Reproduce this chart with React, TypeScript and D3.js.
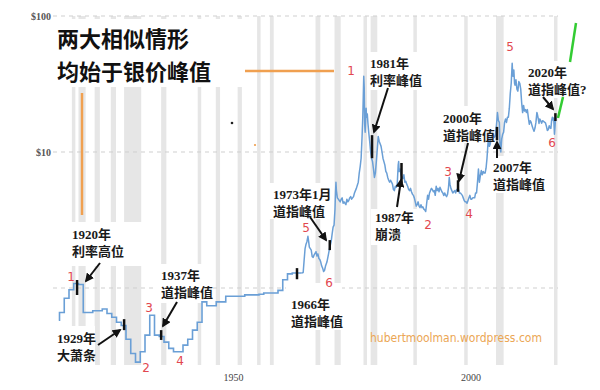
import React from "react";
import * as d3 from "d3";

// ---------- DATA ----------
// Annual silver price (USD/oz), drawn as steps
const stepYears = [1915.85, 1916, 1917, 1918, 1919, 1920, 1921, 1922, 1923, 1924, 1925, 1926, 1927, 1928, 1929, 1930, 1931, 1932, 1933, 1934, 1935, 1936, 1937, 1938, 1939, 1940, 1941, 1942, 1943, 1944, 1945, 1946, 1947, 1948, 1949, 1950, 1951, 1952, 1953, 1954, 1955, 1956, 1957, 1958, 1959, 1960, 1961, 1962, 1963, 1964, 1965, 1966];
const stepPrices = [0.58, 0.66, 0.84, 0.97, 1.08, 1.06, 0.66, 0.66, 0.68, 0.68, 0.7, 0.65, 0.61, 0.56, 0.53, 0.42, 0.33, 0.285, 0.34, 0.45, 0.63, 0.45, 0.44, 0.4, 0.36, 0.34, 0.34, 0.38, 0.42, 0.49, 0.56, 0.79, 0.74, 0.74, 0.79, 0.79, 0.87, 0.87, 0.87, 0.87, 0.89, 0.89, 0.89, 0.9, 0.92, 0.92, 0.92, 0.96, 1.15, 1.27, 1.29, 1.29];

// Silver price after 1967 (year, USD/oz)
const silverSeries: [number, number][] = [
  [1967.0, 1.29], [1967.3, 1.3], [1967.5, 1.6], [1967.7, 1.95], [1967.9, 2.1], [1968.1, 2.2], [1968.3, 2.4], [1968.45, 2.2], [1968.6, 2.0], [1968.8, 1.95],
  [1969.0, 1.9], [1969.2, 1.7], [1969.4, 1.68], [1969.6, 1.75], [1969.8, 1.8], [1970.0, 1.85], [1970.2, 1.72], [1970.4, 1.78], [1970.6, 1.65], [1970.8, 1.62],
  [1971.0, 1.55], [1971.2, 1.45], [1971.4, 1.4], [1971.6, 1.32], [1971.8, 1.35], [1972.0, 1.45], [1972.3, 1.55], [1972.6, 1.75], [1972.9, 2.0], [1973.0, 2.05],
  [1973.2, 2.2], [1973.4, 2.5], [1973.6, 2.8], [1973.8, 2.9], [1974.0, 3.8], [1974.1, 5.0], [1974.2, 6.0], [1974.3, 5.2], [1974.5, 4.6], [1974.7, 4.5],
  [1974.9, 4.4], [1975.1, 4.3], [1975.3, 4.5], [1975.5, 4.6], [1975.7, 4.2], [1975.9, 4.3], [1976.1, 4.2], [1976.3, 4.1], [1976.5, 4.5], [1976.7, 4.3],
  [1976.9, 4.4], [1977.1, 4.6], [1977.3, 4.7], [1977.5, 4.5], [1977.7, 4.6], [1977.9, 4.7], [1978.1, 5.0], [1978.3, 5.2], [1978.5, 5.4], [1978.7, 5.7],
  [1978.9, 6.0], [1979.1, 7.0], [1979.3, 7.8], [1979.5, 9.0], [1979.7, 13.0], [1979.85, 18.0], [1979.95, 25], [1980.05, 36], [1980.15, 30], [1980.25, 16],
  [1980.35, 14], [1980.45, 17], [1980.55, 21], [1980.65, 18], [1980.8, 19], [1980.95, 16], [1981.1, 14], [1981.3, 12], [1981.5, 10], [1981.7, 9],
  [1981.9, 8.5], [1982.1, 7.5], [1982.3, 6.5], [1982.5, 7.0], [1982.7, 8.5], [1982.9, 10.5], [1983.1, 13.0], [1983.3, 12.0], [1983.5, 11.5], [1983.7, 11.0],
  [1983.9, 10.0], [1984.1, 9.0], [1984.3, 8.5], [1984.5, 8.0], [1984.7, 7.2], [1984.9, 7.0], [1985.1, 6.5], [1985.3, 6.2], [1985.5, 6.0], [1985.7, 6.2],
  [1985.9, 6.0], [1986.1, 5.8], [1986.3, 5.3], [1986.5, 5.2], [1986.7, 5.6], [1986.9, 5.5], [1987.1, 5.8], [1987.3, 8.0], [1987.4, 8.5], [1987.5, 7.2],
  [1987.7, 7.5], [1987.9, 6.8], [1988.1, 6.5], [1988.3, 6.4], [1988.5, 6.8], [1988.7, 6.0], [1988.9, 6.1], [1989.1, 5.8], [1989.3, 5.6], [1989.5, 5.3],
  [1989.7, 5.2], [1989.9, 5.4], [1990.1, 5.1], [1990.3, 4.9], [1990.5, 4.8], [1990.7, 4.6], [1990.9, 4.3], [1991.1, 4.0], [1991.3, 4.1], [1991.5, 4.3],
  [1991.7, 4.0], [1991.9, 3.9], [1992.1, 4.1], [1992.3, 3.9], [1992.5, 3.95], [1992.7, 3.8], [1992.9, 3.75], [1993.1, 3.65], [1993.3, 4.2], [1993.5, 4.8],
  [1993.7, 4.5], [1993.9, 5.0], [1994.1, 5.2], [1994.3, 5.4], [1994.5, 5.3], [1994.7, 5.1], [1994.9, 5.2], [1995.1, 4.8], [1995.3, 5.6], [1995.5, 5.2],
  [1995.7, 5.4], [1995.9, 5.1], [1996.1, 5.5], [1996.3, 5.3], [1996.5, 5.1], [1996.7, 5.0], [1996.9, 4.8], [1997.1, 5.0], [1997.3, 4.8], [1997.5, 4.7],
  [1997.7, 4.9], [1997.9, 5.5], [1998.05, 6.5], [1998.2, 5.8], [1998.4, 5.4], [1998.6, 5.2], [1998.8, 5.0], [1999.0, 5.1], [1999.2, 5.2], [1999.4, 5.0],
  [1999.6, 5.3], [1999.8, 5.2], [2000.0, 5.3], [2000.2, 5.0], [2000.4, 5.0], [2000.6, 4.9], [2000.8, 4.8], [2001.0, 4.6], [2001.2, 4.4], [2001.4, 4.3],
  [2001.6, 4.3], [2001.8, 4.2], [2002.0, 4.4], [2002.2, 4.6], [2002.4, 4.8], [2002.6, 4.5], [2002.8, 4.5], [2003.0, 4.6], [2003.2, 4.6], [2003.4, 4.6],
  [2003.6, 5.0], [2003.8, 5.0], [2004.0, 6.0], [2004.2, 7.5], [2004.4, 6.0], [2004.6, 6.7], [2004.8, 7.3], [2005.0, 6.8], [2005.2, 7.2], [2005.4, 7.0],
  [2005.6, 7.0], [2005.8, 7.6], [2006.0, 9.0], [2006.2, 11.5], [2006.35, 13.5], [2006.5, 11.0], [2006.7, 11.5], [2006.9, 13.0], [2007.1, 13.3], [2007.3, 13.5],
  [2007.5, 12.8], [2007.7, 13.0], [2007.9, 14.5], [2008.1, 17.5], [2008.2, 19.5], [2008.4, 17.0], [2008.6, 16.5], [2008.75, 11.0], [2008.9, 10.0], [2009.1, 12.5],
  [2009.3, 13.5], [2009.5, 14.0], [2009.7, 16.5], [2009.9, 17.5], [2010.1, 16.5], [2010.3, 18.0], [2010.5, 18.0], [2010.7, 21.0], [2010.9, 27.0], [2011.1, 32.0],
  [2011.3, 45.0], [2011.4, 38.0], [2011.5, 36.0], [2011.65, 40.0], [2011.8, 32.0], [2011.9, 31.0], [2012.1, 34.0], [2012.3, 29.0], [2012.5, 28.0], [2012.7, 33.0],
  [2012.9, 32.0], [2013.1, 29.0], [2013.3, 23.0], [2013.5, 19.5], [2013.7, 22.0], [2013.9, 20.0], [2014.1, 20.5], [2014.3, 19.5], [2014.5, 20.5], [2014.7, 18.0],
  [2014.9, 16.0], [2015.1, 17.0], [2015.3, 16.5], [2015.5, 15.5], [2015.7, 14.8], [2015.9, 14.2], [2016.1, 15.0], [2016.3, 16.5], [2016.5, 19.5], [2016.6, 19.0],
  [2016.8, 17.5], [2016.95, 16.2], [2017.1, 17.5], [2017.3, 17.0], [2017.5, 16.3], [2017.7, 17.0], [2017.9, 16.8], [2018.1, 16.6], [2018.3, 16.4], [2018.5, 15.5],
  [2018.7, 14.4], [2018.9, 14.6], [2019.1, 15.6], [2019.3, 15.0], [2019.45, 14.9], [2019.6, 17.0], [2019.75, 18.0], [2019.9, 17.2], [2020.05, 17.8], [2020.2, 13.5],
  [2020.3, 15.0], [2020.45, 18.0],
];

// US recessions (shaded bands)
const recessionStarts = [1918.6, 1920.0, 1923.4, 1926.8, 1929.6, 1937.4, 1945.1, 1948.9, 1953.5, 1957.6, 1960.3, 1969.9, 1973.9, 1980.0, 1981.5, 1990.5, 2001.2, 2007.9, 2020.1];
const recessionEnds = [1919.2, 1921.5, 1924.5, 1927.9, 1933.2, 1938.5, 1945.8, 1949.8, 1954.4, 1958.3, 1961.1, 1970.9, 1975.2, 1980.5, 1982.9, 1991.2, 2001.9, 2009.5, 2020.4];

// Black marks on the price line (rate / Dow peaks)
const markYears = [1919.7, 1929.6, 1937.4, 1966.0, 1972.9, 1981.8, 1988.0, 1999.9, 2008.1, 2020.4];
const markHigh = [1.145, 0.59, 0.49, 1.4, 2.25, 13.3, 8.3, 6.2, 15.3, 19.3];
const markLow = [0.888, 0.49, 0.415, 1.16, 1.9, 9.0, 5.9, 5.1, 12.2, 16.9];

const yGridValues = [1, 10, 100];
const yTickValues = [10, 100];
const yTickLabels = ["$10", "$100"];
const xTickValues = [1950, 2000];
const xTickLabels = ["1950", "2000"];

const titleLines = ["两大相似情形", "均始于银价峰值"];

const redNumbers = ["1", "2", "3", "4", "5", "6", "1", "2", "3", "4", "5", "6"];

const annotationTexts = [
  ["1920年", "利率高位"],
  ["1929年", "大萧条"],
  ["1937年", "道指峰值"],
  ["1973年1月", "道指峰值"],
  ["1966年", "道指峰值"],
  ["1981年", "利率峰值"],
  ["1987年", "崩溃"],
  ["2000年", "道指峰值"],
  ["2007年", "道指峰值"],
  ["2020年", "道指峰值?"],
];

const watermark = "hubertmoolman.wordpress.com";

// ---------- LAYOUT ----------
const W = 600;
const H = 390;
const redPos: [number, number][] = [
  [71, 277], [146, 368], [149, 308], [180, 361], [306, 228], [329, 283],
  [351, 71], [428, 225], [448, 172], [469, 214], [510, 47], [552, 143],
];
// text x, line1 y (center), box [x, y, w, h]
const annLayout: { x: number; y: number; box: [number, number, number, number] }[] = [
  { x: 72, y: 234, box: [68, 222, 77, 44] },
  { x: 57, y: 338, box: [55, 326, 40, 42] },
  { x: 161, y: 275, box: [157, 264, 55, 39] },
  { x: 273, y: 194, box: [268, 183, 64, 36] },
  { x: 291, y: 304, box: [286, 283, 56, 47] },
  { x: 370, y: 63, box: [367, 52, 50, 38] },
  { x: 375, y: 217, box: [371, 209, 46, 36] },
  { x: 443, y: 118, box: [438, 106, 53, 37] },
  { x: 493, y: 167, box: [489, 156, 52, 37] },
  { x: 528, y: 72, box: [524, 61, 58, 37] },
];
const arrows: [number, number, number, number][] = [
  [100, 263, 86, 281],
  [98, 345, 120, 330],
  [177, 302, 163, 326],
  [310, 217, 326, 240],
  [388, 88, 374, 132],
  [397, 207, 401, 180],
  [468, 143, 459, 181],
  [497, 158, 497, 142],
  [543, 97, 553, 109],
];

export default function App() {
  const x = d3.scaleLinear().domain([1950, 2000]).range([221, 458.5]);
  const y = d3.scaleLog().domain([1, 100]).range([288, 16]);

  const stepPts: [number, number][] = stepYears.map((yr, i) => [yr, stepPrices[i]]);
  stepPts.push(silverSeries[0]);
  const stepLine = d3
    .line<[number, number]>()
    .x((d) => x(d[0]))
    .y((d) => y(d[1]))
    .curve(d3.curveStepAfter);
  const contLine = d3
    .line<[number, number]>()
    .x((d) => x(d[0]))
    .y((d) => y(d[1]));

  const serifFont = "'Liberation Serif', 'DejaVu Serif', 'Noto Sans CJK SC', serif";
  const cjkFont = "'Liberation Serif', 'Noto Sans CJK SC', serif";
  const blue = "#6a9fd6";
  const red = "#e2474f";
  const orange = "#f0a050";

  return (
    <svg
      width={W}
      height={H}
      viewBox={`0 0 ${W} ${H}`}
      style={{ position: "absolute", left: 0, top: 0, background: "#fff" }}
    >
      <defs>
        <marker id="ah" viewBox="0 0 10 10" refX="8" refY="5" markerWidth="4.5" markerHeight="4.5" orient="auto">
          <path d="M0,0L10,5L0,10z" fill="#111" />
        </marker>
      </defs>
      <rect x={0} y={0} width={W} height={H} fill="#fff" />

      {/* recession bands */}
      {recessionStarts.map((s, i) => (
        <rect
          key={"r" + i}
          x={x(s)}
          y={16}
          width={Math.max(3.5, x(recessionEnds[i]) - x(s))}
          height={349}
          fill="#e6e6e6"
        />
      ))}

      {/* gridlines */}
      {yGridValues.map((v) => (
        <line key={"g" + v} x1={53} x2={558} y1={y(v)} y2={y(v)} stroke="#cfcfcf" strokeWidth={1} strokeDasharray="4,4" />
      ))}

      {/* y tick labels */}
      {yTickValues.map((v, i) => (
        <text key={"yt" + v} x={51} y={y(v)} dy="0.35em" textAnchor="end" fontFamily={serifFont} fontSize={10} fontWeight={700} fill="#555">
          {yTickLabels[i]}
        </text>
      ))}
      {/* x tick labels */}
      {xTickValues.map((v, i) => (
        <text key={"xt" + v} x={x(v) + 12.5} y={377} dy="0.35em" textAnchor="middle" fontFamily={serifFont} fontSize={10} fill="#444">
          {xTickLabels[i]}
        </text>
      ))}

      {/* white label boxes */}
      <rect x={55} y={19} width={190} height={68} fill="#fff" />
      {annLayout.map((a, i) => (
        <rect key={"b" + i} x={a.box[0]} y={a.box[1]} width={a.box[2]} height={a.box[3]} fill="#fff" />
      ))}

      {/* orange guide lines */}
      <line x1={82} x2={82} y1={93} y2={215} stroke={orange} strokeWidth={2.5} />
      <line x1={245} x2={334} y1={71} y2={71} stroke={orange} strokeWidth={2.5} />
      <circle cx={232} cy={123} r={1.3} fill="#222" />
      <circle cx={255} cy={145} r={1.1} fill={orange} />

      {/* price lines */}
      <path d={stepLine(stepPts) || ""} fill="none" stroke={blue} strokeWidth={1.6} />
      <path d={contLine(silverSeries) || ""} fill="none" stroke={blue} strokeWidth={1.5} strokeLinejoin="round" />

      {/* peak marks */}
      {markYears.map((yr, i) => (
        <line key={"m" + i} x1={x(yr)} x2={x(yr)} y1={y(markHigh[i])} y2={y(markLow[i])} stroke="#111" strokeWidth={2.5} />
      ))}

      {/* green lines */}
      <line x1={576} y1={23} x2={570} y2={62} stroke="#33cc33" strokeWidth={2.5} />
      <line x1={563} y1={97} x2={558} y2={118} stroke="#33cc33" strokeWidth={2.5} />

      {/* title */}
      {titleLines.map((t, i) => (
        <text key={"t" + i} x={57} y={39 + i * 33} dy="0.35em" fontFamily="'Noto Sans CJK SC', sans-serif" fontSize={22} fontWeight={700} fill="#111">
          {t}
        </text>
      ))}

      {/* annotations */}
      {annotationTexts.map((lines, i) => (
        <g key={"a" + i}>
          {lines.map((t, j) => (
            <text
              key={j}
              x={annLayout[i].x}
              y={annLayout[i].y + j * 17}
              dy="0.35em"
              fontFamily={cjkFont}
              fontSize={13}
              fontWeight={700}
              fill="#1a1a1a"
            >
              {t}
            </text>
          ))}
        </g>
      ))}

      {/* arrows */}
      {arrows.map((a, i) => (
        <line key={"ar" + i} x1={a[0]} y1={a[1]} x2={a[2]} y2={a[3]} stroke="#111" strokeWidth={2} markerEnd="url(#ah)" />
      ))}

      {/* red wave numbers */}
      {redNumbers.map((n, i) => (
        <text key={"n" + i} x={redPos[i][0]} y={redPos[i][1]} dy="0.35em" textAnchor="middle" fontFamily="'DejaVu Sans', sans-serif" fontSize={12} fill={red}>
          {n}
        </text>
      ))}

      {/* watermark */}
      <text x={370} y={338} dy="0.35em" fontFamily="'DejaVu Sans', sans-serif" fontSize={12} fill="#eba654" textLength={172} lengthAdjust="spacingAndGlyphs">
        {watermark}
      </text>
    </svg>
  );
}
